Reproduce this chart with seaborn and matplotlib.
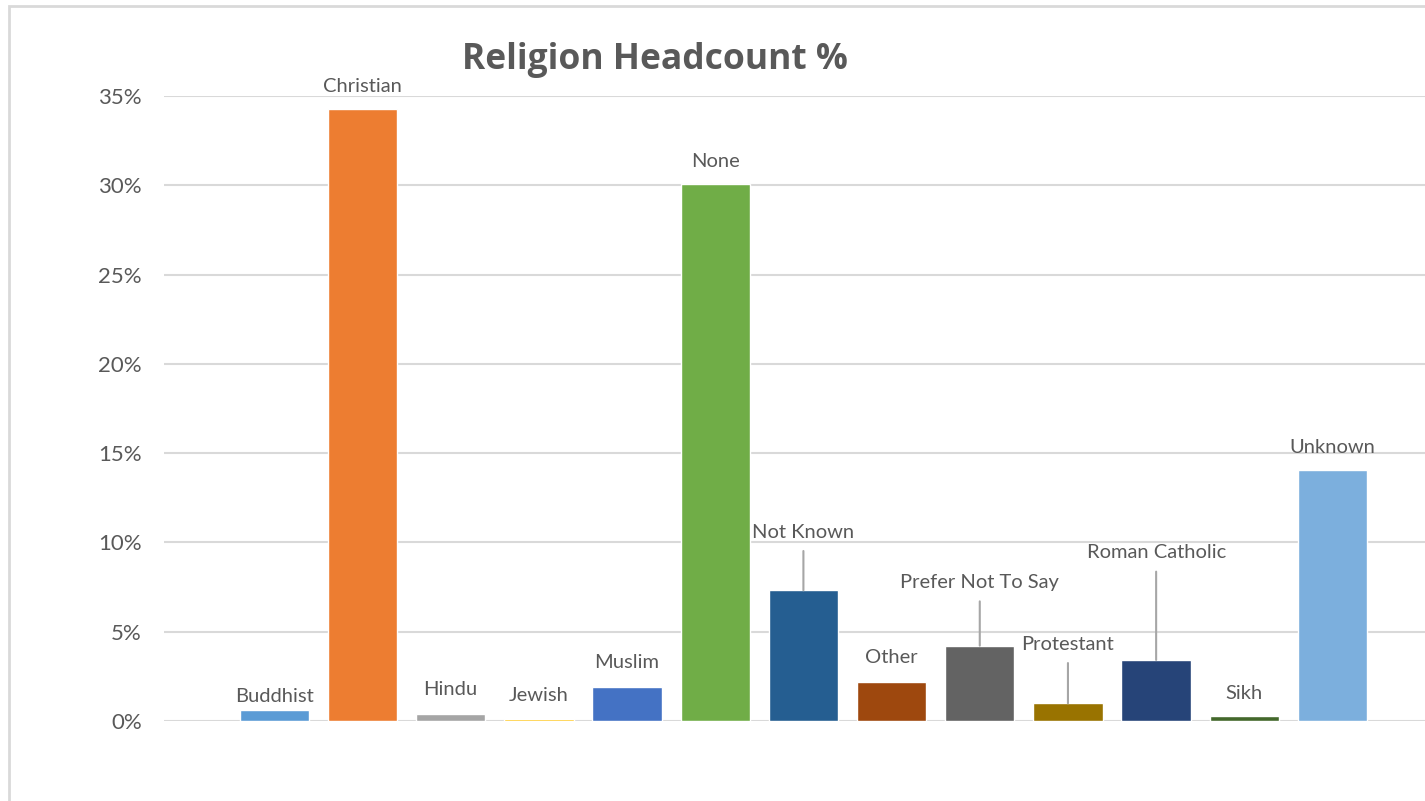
import matplotlib
matplotlib.use("Agg")
import matplotlib.pyplot as plt
import pandas as pd
import seaborn as sns

religions = ["Buddhist", "Christian", "Hindu", "Jewish", "Muslim", "None", "Not Known",
             "Other", "Prefer Not To Say", "Protestant", "Roman Catholic", "Sikh", "Unknown"]
headcount_pct = [0.63, 34.3, 0.41, 0.11, 1.92, 30.1, 7.32, 2.2, 4.22, 0.99, 3.42, 0.26, 14.04]
bar_colors = ["#5B9BD5", "#ED7D31", "#A5A5A5", "#FFC000", "#4472C4", "#70AD47", "#255E91",
              "#9E480E", "#636363", "#997300", "#264478", "#43682B", "#7CAFDD"]
yticks = [0, 5, 10, 15, 20, 25, 30, 35]

# label distance above each bar (pixels), the long ones get a leader line
label_offset = [13, 22, 24, 24, 24, 22, 58, 24, 63, 59, 107, 23, 23]
leader = [False, False, False, False, False, False, True, False, True, True, True, False, False]

data = pd.DataFrame({"Religion": religions, "Pct": headcount_pct})

sns.set_style("white")
plt.rcParams['font.family'] = ['Lato', 'DejaVu Sans']

fig = plt.figure(figsize=(14.25, 8.01), dpi=100)
ax = fig.add_axes([164 / 1425, 80 / 801, 1261 / 1425, 625 / 801])

sns.barplot(data=data, x="Religion", y="Pct", hue="Religion", palette=bar_colors,
            legend=False, width=0.786, saturation=1, ax=ax, zorder=3)

ax.set_xlim(-1.251, 13.049)
ax.set_ylim(0, 35)
ax.set_yticks(yticks)
ax.set_yticklabels([f"{t}%" for t in yticks], color="#595959", fontsize=16)
ax.set_xticks([])
ax.set_xlabel("")
ax.set_ylabel("")
ax.tick_params(axis="y", length=0, pad=16)
for s in ax.spines.values():
    s.set_visible(False)
ax.grid(axis="y", color="#d9d9d9", linewidth=1.5, zorder=0)

for i, (name, v) in enumerate(zip(religions, headcount_pct)):
    if leader[i]:
        ax.annotate(name, xy=(i, v), xytext=(0, label_offset[i]), textcoords="offset pixels",
                    ha="center", va="center", fontsize=14.5, color="#595959",
                    arrowprops=dict(arrowstyle="-", color="#a6a6a6", lw=1.5,
                                    shrinkA=5, shrinkB=0))
    else:
        ax.annotate(name, xy=(i, v), xytext=(0, label_offset[i]), textcoords="offset pixels",
                    ha="center", va="center", fontsize=14.5, color="#595959")

fig.text(655 / 1425, 1 - 60 / 801, "Religion Headcount %", ha="center", va="center",
         fontsize=25.5, fontweight="bold", color="#595959", family=["Open Sans", "DejaVu Sans"])

# chart border (right and bottom edges fall outside the crop)
border = plt.Rectangle((9 / 1425, -0.1), 1.2, 1 - 6 / 801 + 0.1, transform=fig.transFigure,
                       fill=False, edgecolor="#d9d9d9", linewidth=2)
fig.patches.append(border)

fig.savefig("out.png", dpi=100)
